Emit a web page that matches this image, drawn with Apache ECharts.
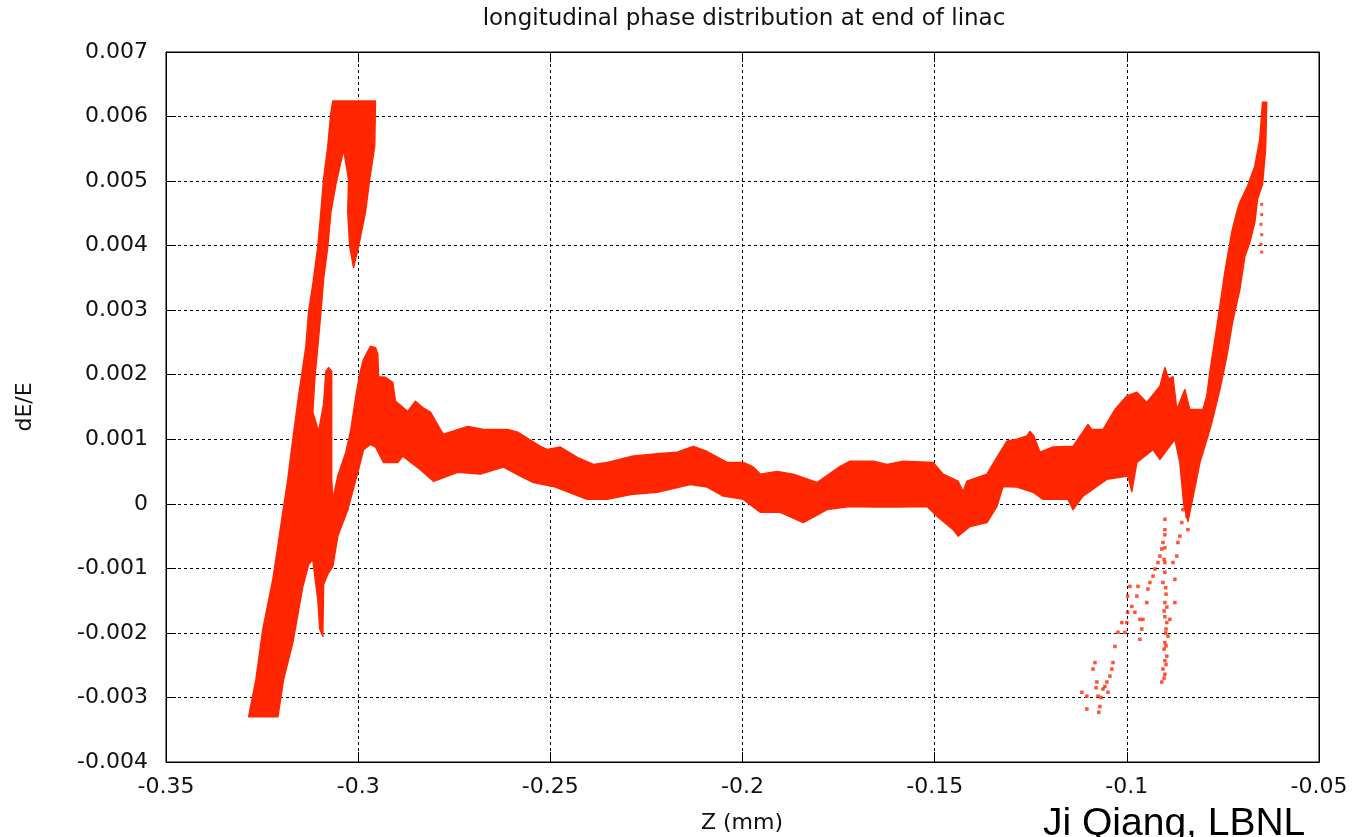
<!DOCTYPE html>
<html>
<head>
<meta charset="utf-8">
<script src="https://cdn.jsdelivr.net/npm/echarts@6/dist/echarts.min.js"></script>
<style>
html,body{margin:0;padding:0;background:#fff;}
#chart{width:1352px;height:837px;}
</style>
</head>
<body>
<div id="chart"></div>
<script>
// ---- axis ticks ----
const xTicks = { min: -0.35, max: -0.05, interval: 0.05 };
const yTicks = { min: -0.004, max: 0.007, interval: 0.001 };

// ---- outline of the dense particle distribution (Z, dE/E) ----
// left edge of the steep left branch, bottom to top
const branchLeftEdge = [
  [-0.3285,-0.00330],[-0.3266,-0.00272],[-0.3248,-0.00194],[-0.3222,-0.00117],[-0.3209,-0.00066],
  [-0.3196,-0.00013],[-0.3183,0.00038],[-0.3170,0.00100],[-0.3155,0.00167],[-0.3136,0.00244],
  [-0.3129,0.00297],[-0.3116,0.00348],[-0.3105,0.00399],[-0.3097,0.00452],[-0.3090,0.00503],
  [-0.3079,0.00554],[-0.3071,0.00606],[-0.3066,0.00624]
];
// top of left branch, second spike, inner gaps and thin strip
const topSpike = [
  [-0.2955,0.00624],[-0.2957,0.00554],[-0.2970,0.00503],[-0.2981,0.00452],[-0.2999,0.00399],
  [-0.3012,0.00366],[-0.3022,0.00399],[-0.3027,0.00452],[-0.3025,0.00503],[-0.3038,0.00549],
  [-0.3058,0.00495],[-0.3071,0.00452],[-0.3079,0.00399],[-0.3090,0.00348],[-0.3097,0.00297],
  [-0.3105,0.00244],[-0.3113,0.00193],[-0.3118,0.00142],[-0.3103,0.00112],[-0.3090,0.00154],
  [-0.3084,0.00205],[-0.3077,0.00211],[-0.3069,0.00205],[-0.3069,0.00100],[-0.3069,0.00038],
  [-0.3066,0.00007]
];
// lower right edge of the left mass, with the thin downward spike
const leftLower = [
  [-0.3027,-0.00009],[-0.3053,-0.00050],[-0.3066,-0.00097],[-0.3079,-0.00109],[-0.3090,-0.00125],
  [-0.3092,-0.00205],[-0.3100,-0.00194],[-0.3105,-0.00148],[-0.3110,-0.00125],[-0.3118,-0.00086],
  [-0.3129,-0.00094],[-0.3144,-0.00128],[-0.3170,-0.00215],[-0.3194,-0.00272],[-0.3209,-0.00330]
];
// upper edge of the main band, left to right
const mainUpper = [
  [-0.3066,0.00007],[-0.3053,0.00043],[-0.3032,0.00080],[-0.3019,0.00115],[-0.3006,0.00167],[-0.2996,0.00201],
  [-0.2986,0.00224],[-0.2968,0.00244],[-0.2955,0.00242],[-0.2949,0.00232],[-0.2947,0.00197],
  [-0.2929,0.00196],[-0.2910,0.00188],[-0.2903,0.00159],[-0.2871,0.00143],[-0.2851,0.00159],
  [-0.2832,0.00149],[-0.2812,0.00142],[-0.2786,0.00115],[-0.2778,0.00108],[-0.2715,0.00120],
  [-0.2674,0.00115],[-0.2611,0.00115],[-0.2585,0.00111],[-0.2526,0.00089],[-0.2507,0.00084],
  [-0.2474,0.00088],[-0.2430,0.00072],[-0.2388,0.00061],[-0.2352,0.00064],[-0.2284,0.00074],
  [-0.2214,0.00078],[-0.2170,0.00080],[-0.2128,0.00089],[-0.2092,0.00081],[-0.2040,0.00064],
  [-0.1998,0.00064],[-0.1972,0.00057],[-0.1954,0.00046],[-0.1910,0.00050],[-0.1868,0.00046],
  [-0.1806,0.00033],[-0.1746,0.00058],[-0.1720,0.00066],[-0.1660,0.00066],[-0.1624,0.00061],
  [-0.1582,0.00066],[-0.1504,0.00064],[-0.1478,0.00046],[-0.1439,0.00035],[-0.1426,0.00019],
  [-0.1416,0.00035],[-0.1364,0.00046],[-0.1338,0.00072],[-0.1312,0.00097],[-0.1286,0.00100],
  [-0.1260,0.00105],[-0.1252,0.00112],[-0.1242,0.00105],[-0.1226,0.00080],[-0.1192,0.00088],
  [-0.1140,0.00089],[-0.1101,0.00123],[-0.1091,0.00115],[-0.1062,0.00115],[-0.1031,0.00146],
  [-0.1000,0.00167],[-0.0974,0.00173],[-0.0948,0.00157],[-0.0914,0.00182],[-0.0901,0.00211],
  [-0.0891,0.00193],[-0.0880,0.00197],[-0.0870,0.00146],[-0.0849,0.00177],[-0.0836,0.00146],
  [-0.0802,0.00146],[-0.0792,0.00167]
];
// steep right branch, left edge going up
const rightBranchUpper = [
  [-0.0784,0.00204],[-0.0764,0.00281],[-0.0745,0.00359],[-0.0727,0.00421],[-0.0714,0.00452],
  [-0.0706,0.00467],[-0.0686,0.00492],[-0.0667,0.00523],[-0.0654,0.00565],[-0.0647,0.00622]
];
// steep right branch, right edge going down
const rightBranchLower = [
  [-0.0636,0.00622],[-0.0639,0.00549],[-0.0647,0.00495],[-0.0660,0.00472],[-0.0667,0.00436],
  [-0.0680,0.00405],[-0.0693,0.00383],[-0.0706,0.00332],[-0.0725,0.00281],[-0.0740,0.00228],
  [-0.0758,0.00177],[-0.0779,0.00126],[-0.0789,0.00105],[-0.0810,0.00064],[-0.0829,0.00007],
  [-0.0841,-0.00027],[-0.0852,-0.00001],[-0.0862,0.00064],[-0.0875,0.00100]
];
// lower edge of the main band, right to left
const mainLower = [
  [-0.0914,0.00069],[-0.0932,0.00084],[-0.0974,0.00064],[-0.0987,0.00019],[-0.0997,0.00043],
  [-0.1052,0.00038],[-0.1114,0.00012],[-0.1140,-0.00009],[-0.1153,0.00007],[-0.1218,0.00007],
  [-0.1244,0.00018],[-0.1286,0.00026],[-0.1322,0.00027],[-0.1338,-0.00004],[-0.1364,-0.00029],
  [-0.1408,-0.00035],[-0.1439,-0.00050],[-0.1452,-0.00040],[-0.1494,-0.00019],[-0.1520,-0.00004],
  [-0.1598,-0.00005],[-0.1660,-0.00005],[-0.1720,-0.00004],[-0.1780,-0.00009],[-0.1842,-0.00029],
  [-0.1902,-0.00013],[-0.1954,-0.00013],[-0.1998,0.00007],[-0.2050,0.00012],[-0.2092,0.00026],
  [-0.2136,0.00030],[-0.2222,0.00018],[-0.2284,0.00015],[-0.2352,0.00007],[-0.2404,0.00007],
  [-0.2440,0.00015],[-0.2492,0.00027],[-0.2544,0.00033],[-0.2578,0.00043],[-0.2622,0.00057],
  [-0.2682,0.00046],[-0.2741,0.00049],[-0.2804,0.00035],[-0.2838,0.00053],[-0.2884,0.00074],
  [-0.2897,0.00064],[-0.2934,0.00064],[-0.2955,0.00088],[-0.2968,0.00092],[-0.2986,0.00084],
  [-0.2999,0.00053],[-0.3027,-0.00009]
];

// sparse particles below the right end
const sparseLow = [
  [-0.1117,-0.00292],[-0.1104,-0.00298],[-0.1104,-0.00318],[-0.1088,-0.00256],[-0.1083,-0.00246],
  [-0.1078,-0.00276],[-0.1075,-0.00298],[-0.1070,-0.00314],[-0.1073,-0.00323],[-0.1062,-0.00287],
  [-0.1052,-0.00276],[-0.1044,-0.00267],[-0.1039,-0.00256],[-0.1036,-0.00246],[-0.1049,-0.00292],
  [-0.1057,-0.00283],[-0.1031,-0.00221],[-0.1023,-0.00199],[-0.1013,-0.00184],[-0.1005,-0.00199],
  [-0.1000,-0.00184],[-0.0998,-0.00168],[-0.0998,-0.00143],[-0.0992,-0.00128],[-0.0987,-0.00159],
  [-0.0979,-0.00168],[-0.0974,-0.00143],[-0.0971,-0.00128],[-0.0966,-0.00179],[-0.0961,-0.00194],
  [-0.0966,-0.00210],[-0.0958,-0.00179],[-0.0948,-0.00153],[-0.0945,-0.00132],[-0.0940,-0.00122],
  [-0.0932,-0.00112],[-0.0927,-0.00101],[-0.0919,-0.00091],[-0.0914,-0.00081],[-0.0909,-0.00070],
  [-0.0906,-0.00060],[-0.0901,-0.00040],[-0.0901,-0.00024],[-0.0901,-0.00048],[-0.0901,-0.00068],
  [-0.0901,-0.00091],[-0.0903,-0.00086],[-0.0906,-0.00122],[-0.0898,-0.00140],[-0.0901,-0.00153],
  [-0.0903,-0.00166],[-0.0896,-0.00184],[-0.0898,-0.00194],[-0.0893,-0.00205],[-0.0901,-0.00215],
  [-0.0903,-0.00225],[-0.0896,-0.00236],[-0.0898,-0.00249],[-0.0906,-0.00256],[-0.0901,-0.00264],
  [-0.0909,-0.00276],[-0.0888,-0.00179],[-0.0880,-0.00091],[-0.0875,-0.00117],[-0.0875,-0.00153],
  [-0.0870,-0.00081],[-0.0867,-0.00060],[-0.0862,-0.00050],[-0.0857,-0.00029],[-0.0854,-0.00009],
  [-0.0844,-0.00019],[-0.0841,-0.00040],[-0.0849,0.00012],
  [-0.0901,-0.00106],[-0.0899,-0.00130],[-0.0901,-0.00175],[-0.0899,-0.00200],[-0.0901,-0.00243],
  [-0.0903,-0.00270],[-0.0898,-0.00220],[-0.0896,-0.00160],[-0.1080,-0.00285],[-0.1067,-0.00300]
];
// thin trail on the right side of the right branch
const sparseRight = [
  [-0.0649,0.00464],[-0.0649,0.00448],[-0.0651,0.00433],[-0.0649,0.00417],[-0.0651,0.00402],[-0.0649,0.00390]
];

const RED = '#ff2600';
const polygons = [
  [].concat(branchLeftEdge, topSpike, leftLower),
  [].concat(mainUpper, rightBranchUpper, rightBranchLower, mainLower)
];

const chart = echarts.init(document.getElementById('chart'), null, { renderer: 'canvas' });
const FONT = 'DejaVu Sans';
const axisLabel = { color: '#111', fontFamily: FONT, fontSize: 22 };

const option = {
  animation: false,
  backgroundColor: '#fff',
  grid: { left: 166, right: 33, top: 52, bottom: 75, show: true, borderColor: '#000', borderWidth: 1, backgroundColor: 'transparent' },
  xAxis: [{
    type: 'value', min: xTicks.min, max: xTicks.max, interval: xTicks.interval,
    axisLine: { show: true, onZero: false, lineStyle: { color: '#000', width: 1 } },
    axisTick: { show: true, inside: true, length: 10, lineStyle: { color: '#000' } },
    axisLabel: Object.assign({ margin: 14 }, axisLabel),
    splitLine: { show: true, lineStyle: { color: '#000', type: [3, 3], width: 1 } }
  }, {
    type: 'value', position: 'top', min: xTicks.min, max: xTicks.max, interval: xTicks.interval,
    axisLine: { show: true, onZero: false, lineStyle: { color: '#000' } },
    axisTick: { show: true, inside: true, length: 10, lineStyle: { color: '#000' } },
    axisLabel: { show: false }, splitLine: { show: false }
  }],
  yAxis: [{
    type: 'value', min: yTicks.min, max: yTicks.max, interval: yTicks.interval,
    axisLine: { show: true, onZero: false, lineStyle: { color: '#000', width: 1 } },
    axisTick: { show: true, inside: true, length: 10, lineStyle: { color: '#000' } },
    axisLabel: Object.assign({ margin: 18 }, axisLabel),
    splitLine: { show: true, lineStyle: { color: '#000', type: [3, 3], width: 1 } }
  }, {
    type: 'value', position: 'right', min: yTicks.min, max: yTicks.max, interval: yTicks.interval,
    axisLine: { show: true, onZero: false, lineStyle: { color: '#000' } },
    axisTick: { show: true, inside: true, length: 10, lineStyle: { color: '#000' } },
    axisLabel: { show: false }, splitLine: { show: false }
  }],
  graphic: [
    { type: 'text', x: 744, y: 19, style: { text: 'longitudinal phase distribution at end of linac', fill: '#111', font: '23px "DejaVu Sans"', textAlign: 'center', textVerticalAlign: 'middle' } },
    { type: 'text', x: 25, y: 407, rotation: Math.PI / 2, style: { text: 'dE/E', fill: '#111', font: '22px "DejaVu Sans"', textAlign: 'center', textVerticalAlign: 'middle' } },
    { type: 'text', x: 742, y: 823, style: { text: 'Z (mm)', fill: '#111', font: '22px "DejaVu Sans"', textAlign: 'center', textVerticalAlign: 'middle' } },
    { type: 'text', x: 1043, y: 805, style: { text: 'Ji Qiang, LBNL', fill: '#000', font: '39px "Liberation Sans"', textAlign: 'left', textVerticalAlign: 'top' } }
  ],
  series: [{
    type: 'custom',
    coordinateSystem: 'cartesian2d',
    xAxisIndex: 0, yAxisIndex: 0,
    clip: true,
    data: polygons.map(function (poly) { return poly[0]; }),
    encode: { x: 0, y: 1 },
    renderItem: function (params, api) {
      const poly = polygons[params.dataIndex];
      const pts = poly.map(function (p) { return api.coord(p); });
      return { type: 'polygon', shape: { points: pts }, style: { fill: RED, stroke: RED, lineWidth: 1.5, lineJoin: 'round' } };
    }
  }, {
    type: 'scatter', xAxisIndex: 0, yAxisIndex: 0,
    data: sparseLow, symbol: 'rect', symbolSize: 3.5,
    itemStyle: { color: RED }, silent: true
  }, {
    type: 'scatter', xAxisIndex: 0, yAxisIndex: 0,
    data: sparseRight, symbol: 'rect', symbolSize: 3,
    itemStyle: { color: RED }, silent: true
  }]
};
chart.setOption(option);
</script>
</body>
</html>
